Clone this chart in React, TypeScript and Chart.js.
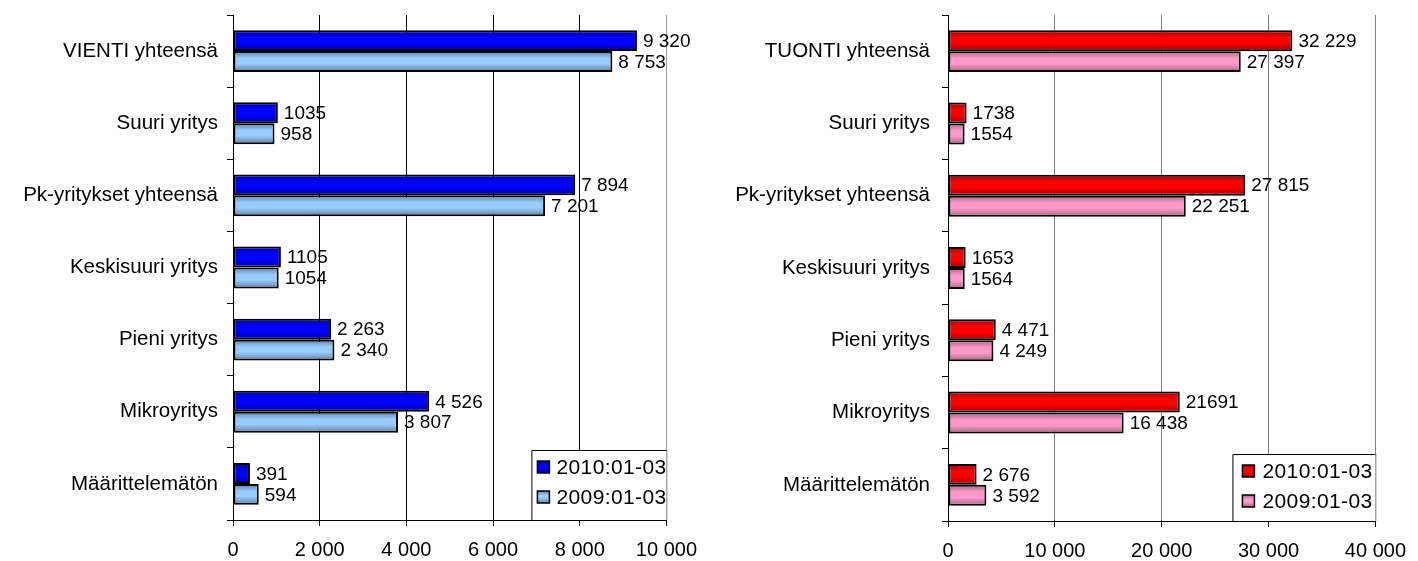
import React, { useEffect, useRef } from 'react';
import { Chart, registerables } from 'chart.js';

Chart.register(...registerables);

const exportCategories = ['VIENTI yhteensä', 'Suuri yritys', 'Pk-yritykset yhteensä', 'Keskisuuri yritys', 'Pieni yritys', 'Mikroyritys', 'Määrittelemätön'];
const importCategories = ['TUONTI yhteensä', 'Suuri yritys', 'Pk-yritykset yhteensä', 'Keskisuuri yritys', 'Pieni yritys', 'Mikroyritys', 'Määrittelemätön'];
const seriesNames = ['2010:01-03', '2009:01-03'];

const export2010 = [9320, 1035, 7894, 1105, 2263, 4526, 391];
const export2009 = [8753, 958, 7201, 1054, 2340, 3807, 594];
const import2010 = [32229, 1738, 27815, 1653, 4471, 21691, 2676];
const import2009 = [27397, 1554, 22251, 1564, 4249, 16438, 3592];

const exportLabels2010 = ['9 320', '1035', '7 894', '1105', '2 263', '4 526', '391'];
const exportLabels2009 = ['8 753', '958', '7 201', '1054', '2 340', '3 807', '594'];
const importLabels2010 = ['32 229', '1738', '27 815', '1653', '4 471', '21691', '2 676'];
const importLabels2009 = ['27 397', '1554', '22 251', '1564', '4 249', '16 438', '3 592'];

const FONT = '"Liberation Sans", Arial, sans-serif';

const fmt = (v: number) => String(v).replace(/\B(?=(\d{3})+(?!\d))/g, ' ');

type PanelProps = {
  left: number;
  width: number;
  cats: string[];
  d1: number[];
  d2: number[];
  l1: string[];
  l2: string[];
  colors: { base: string; dark: string }[];
  max: number;
  step: number;
  yWidth: number;
  yPad: number;
  padRight: number;
  bottom: number;
  gridColor: (i: number) => string;
  legend: { w: number; h: number; markerX: number; textX: number; y1: number; y2: number };
};

function Panel(p: PanelProps) {
  const ref = useRef<HTMLCanvasElement | null>(null);
  useEffect(() => {
    const canvas = ref.current!;
    const labelsByDs = [p.l1, p.l2];

    const gradientPlugin = {
      id: 'grad',
      beforeDatasetsDraw(chart: any) {
        const ctx = chart.ctx;
        chart.data.datasets.forEach((_: any, di: number) => {
          const meta = chart.getDatasetMeta(di);
          const c = p.colors[di];
          meta.data.forEach((el: any) => {
            const { y, height } = el.getProps(['y', 'height'], true);
            const top = y - height / 2;
            const bot = y + height / 2;
            const g = ctx.createLinearGradient(0, top, 0, bot);
            g.addColorStop(0, c.dark);
            g.addColorStop(0.35, c.base);
            g.addColorStop(0.6, c.base);
            g.addColorStop(1, c.dark);
            el.options = Object.assign({}, el.options, { backgroundColor: g });
          });
        });
      },
    };

    const labelPlugin = {
      id: 'vals',
      afterDatasetsDraw(chart: any) {
        const ctx = chart.ctx;
        ctx.save();
        ctx.font = `19px ${FONT}`;
        ctx.fillStyle = '#000';
        ctx.textAlign = 'left';
        ctx.textBaseline = 'middle';
        chart.data.datasets.forEach((_: any, di: number) => {
          const meta = chart.getDatasetMeta(di);
          meta.data.forEach((el: any, i: number) => {
            const { x, y } = el.getProps(['x', 'y'], true);
            ctx.fillText(labelsByDs[di][i], x + 6, y + 1);
          });
        });
        ctx.restore();
      },
    };

    const legendPlugin = {
      id: 'boxLegend',
      afterDraw(chart: any) {
        const ctx = chart.ctx;
        const a = chart.chartArea;
        const L = p.legend;
        const bx = a.right - L.w;
        const by = a.bottom - L.h;
        ctx.save();
        ctx.fillStyle = '#fff';
        ctx.fillRect(bx, by, L.w, L.h);
        ctx.strokeStyle = '#000';
        ctx.lineWidth = 1;
        ctx.beginPath();
        ctx.moveTo(a.right + 0.5, by + 0.5);
        ctx.lineTo(bx + 0.5, by + 0.5);
        ctx.lineTo(bx + 0.5, a.bottom);
        ctx.stroke();
        ctx.strokeStyle = '#999';
        ctx.beginPath();
        ctx.moveTo(a.right + 0.5, by);
        ctx.lineTo(a.right + 0.5, a.bottom);
        ctx.stroke();
        const ys = [by + L.y1, by + L.y2];
        ctx.font = `21px ${FONT}`;
        (ctx as any).letterSpacing = '0.4px';
        ctx.textBaseline = 'middle';
        ctx.textAlign = 'left';
        seriesNames.forEach((name, i) => {
          const c = p.colors[i];
          const s = 12;
          const mx = bx + L.markerX;
          const my = ys[i] - s / 2;
          const g = ctx.createLinearGradient(0, my, 0, my + s);
          g.addColorStop(0, c.dark);
          g.addColorStop(0.35, c.base);
          g.addColorStop(0.6, c.base);
          g.addColorStop(1, c.dark);
          ctx.fillStyle = g;
          ctx.fillRect(mx, my, s, s);
          ctx.strokeStyle = '#000';
          ctx.lineWidth = 1.5;
          ctx.strokeRect(mx, my, s, s);
          ctx.fillStyle = '#000';
          ctx.fillText(name, bx + L.textX, ys[i] + 1);
        });
        ctx.restore();
      },
    };

    const chart = new Chart(canvas, {
      type: 'bar',
      data: {
        labels: p.cats,
        datasets: [
          {
            label: seriesNames[0],
            data: p.d1,
            backgroundColor: () => p.colors[0].base,
            borderColor: '#000',
            borderWidth: 2,
            borderSkipped: false,
            barPercentage: 1,
            categoryPercentage: 0.58,
          },
          {
            label: seriesNames[1],
            data: p.d2,
            backgroundColor: () => p.colors[1].base,
            borderColor: '#000',
            borderWidth: 2,
            borderSkipped: false,
            barPercentage: 1,
            categoryPercentage: 0.58,
          },
        ],
      },
      options: {
        indexAxis: 'y',
        responsive: false,
        animation: false,
        devicePixelRatio: 1,
        layout: { padding: { top: 15, right: p.padRight, left: 0, bottom: 0 } },
        plugins: { legend: { display: false }, tooltip: { enabled: false } },
        scales: {
          y: {
            type: 'category',
            offset: true,
            grid: { display: true, drawOnChartArea: false, drawTicks: true, tickLength: 6, color: '#000', offset: true },
            border: { display: true, color: '#000', width: 1 },
            ticks: { color: '#000', font: { family: FONT, size: 20.5 }, padding: p.yPad, autoSkip: false },
            afterFit: (s: any) => {
              s.width = p.yWidth;
              s.paddingTop = 0;
              s.paddingBottom = 0;
            },
          },
          x: {
            type: 'linear',
            min: 0,
            max: p.max,
            grid: {
              color: (c: any) => p.gridColor(c.index),
              tickColor: '#000',
              tickLength: 6,
              drawTicks: true,
            },
            border: { display: true, color: '#000', width: 1 },
            ticks: {
              stepSize: p.step,
              color: '#000',
              font: { family: FONT, size: 20 },
              padding: 12,
              maxRotation: 0,
              autoSkip: false,
              callback: (v: any) => fmt(Number(v)),
            },
            afterFit: (s: any) => {
              s.height = p.bottom;
            },
          },
        },
      },
      plugins: [gradientPlugin, labelPlugin, legendPlugin],
    } as any);
    return () => chart.destroy();
  }, []);
  return (
    <canvas
      ref={ref}
      width={p.width}
      height={561}
      style={{ position: 'absolute', left: p.left, top: 0, width: p.width, height: 561 }}
    />
  );
}

export default function App() {
  return (
    <div style={{ position: 'fixed', left: 0, top: 0, width: 1418, height: 561, background: '#fff' }}>
      <Panel
        left={0}
        width={709}
        cats={exportCategories}
        d1={export2010}
        d2={export2009}
        l1={exportLabels2010}
        l2={exportLabels2009}
        colors={[
          { base: '#0000FF', dark: '#00009A' },
          { base: '#99CCFF', dark: '#5E7FA0' },
        ]}
        max={10000}
        step={2000}
        yWidth={233}
        yPad={9}
        padRight={42}
        bottom={41}
        gridColor={(i) => (i === 5 ? '#999' : '#000')}
        legend={{ w: 135, h: 70, markerX: 6, textX: 25, y1: 17, y2: 47 }}
      />
      <Panel
        left={709}
        width={709}
        cats={importCategories}
        d1={import2010}
        d2={import2009}
        l1={importLabels2010}
        l2={importLabels2009}
        colors={[
          { base: '#FF0000', dark: '#A00000' },
          { base: '#FF99CC', dark: '#A5657F' },
        ]}
        max={40000}
        step={10000}
        yWidth={239}
        yPad={12}
        padRight={37}
        bottom={40}
        gridColor={() => '#808080'}
        legend={{ w: 143, h: 67, markerX: 10, textX: 30, y1: 17, y2: 47 }}
      />
    </div>
  );
}
